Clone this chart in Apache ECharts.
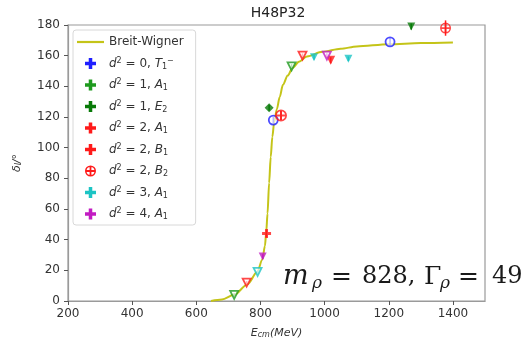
<!DOCTYPE html>
<html><head><meta charset="utf-8">
<script src="https://cdn.jsdelivr.net/npm/echarts@6/dist/echarts.min.js"></script>
<style>html,body{margin:0;padding:0;background:#fff}#c{width:528px;height:345px}</style>
</head><body><div id="c"></div>
<script>
// ---- data ----
const xTicks = [200, 400, 600, 800, 1000, 1200, 1400];
const yTicks = [0, 20, 40, 60, 80, 100, 120, 140, 160, 180];
const bwCurve = [[646,0],[680,1],[718,4],[760,11],[790,19],[806,27],[814,36],[818,45],[822,57],[827,77],[832,94],[837,107],[843,117],[851,125],[860,133],[870,141],[885,147],[900,152],[920,156],[945,159.5],[993,162.5],[1050,164.5],[1100,166],[1200,167.5],[1300,168.2],[1400,168.6]];
// [E, delta, error]
const t1mPts  = [[840,118,2],[1204,169,2.5]];
const a1d1Pts = [[718,4,1],[897,153,1.5]];
const e2d1Pts = [[827,126,2],[1270,179,2]];
const a1d2Pts = [[757,12,1],[931,160,1.5]];
const b1d2Pts = [[819,44,2.5],[1019,157,2]];
const b2d2Pts = [[864,121,3],[1377,178,5]];
const a1d3Pts = [[791,19,1],[967,159,1.5],[1074,158,1.5]];
const a1d4Pts = [[807,29,1.5],[1007,160,1.5]];

const PLUS = 'path://M3.4,0H6.6V3.4H10V6.6H6.6V10H3.4V6.6H0V3.4H3.4Z';
const OPLUS = 'path://M0,5A5,5 0 1,1 10,5A5,5 0 1,1 0,5ZM1.4,5A3.6,3.6 0 1,0 8.6,5A3.6,3.6 0 1,0 1.4,5ZM4.2,0.3H5.8V9.7H4.2ZM0.3,4.2H9.7V5.8H0.3Z';
const LINEICON = 'path://M0,0H27V2.2H0Z';
const DTRI = 'triangle';

const groups = [
  {name:'t1m', label:'{i|d}{sup|2} = 0, {i|T}{sub|1}{sup|−}', color:'#1f1fff', pts:t1mPts, sym:['circle','circle'], hollow:[true,true], size:[9,9], icon:PLUS},
  {name:'a1d1', label:'{i|d}{sup|2} = 1, {i|A}{sub|1}', color:'#1e9a1e', pts:a1d1Pts, sym:[DTRI,DTRI], hollow:[true,true], size:[8,8], icon:PLUS},
  {name:'e2d1', label:'{i|d}{sup|2} = 1, {i|E}{sub|2}', color:'#087a08', pts:e2d1Pts, sym:['diamond',DTRI], hollow:[false,false], size:[9,8], icon:PLUS},
  {name:'a1d2', label:'{i|d}{sup|2} = 2, {i|A}{sub|1}', color:'#ff1a1a', pts:a1d2Pts, sym:[DTRI,DTRI], hollow:[true,true], size:[8,8], icon:PLUS},
  {name:'b1d2', label:'{i|d}{sup|2} = 2, {i|B}{sub|1}', color:'#ff1a1a', pts:b1d2Pts, sym:[PLUS,'triangle'], hollow:[false,false], size:[9,9], icon:PLUS},
  {name:'b2d2', label:'{i|d}{sup|2} = 2, {i|B}{sub|2}', color:'#ff1a1a', pts:b2d2Pts, sym:[OPLUS,OPLUS], hollow:[false,false], size:[12,11], icon:OPLUS},
  {name:'a1d3', label:'{i|d}{sup|2} = 3, {i|A}{sub|1}', color:'#1cc4c4', pts:a1d3Pts, sym:[DTRI,DTRI,DTRI], hollow:[true,false,false], size:[8,8,8], icon:PLUS},
  {name:'a1d4', label:'{i|d}{sup|2} = 4, {i|A}{sub|1}', color:'#c21cc2', pts:a1d4Pts, sym:[DTRI,DTRI], hollow:[false,true], size:[8,8], icon:PLUS}
];

const labelMap = {'Breit-Wigner':'Breit-Wigner'};
groups.forEach(g => labelMap[g.name] = g.label);

const BWCOLOR = '#c4c418';
const series = [{
  name:'Breit-Wigner', type:'line', data:bwCurve, symbol:'none', smooth:0.3, smoothMonotone:'x',
  lineStyle:{color:BWCOLOR, width:2}, itemStyle:{color:BWCOLOR}, z:2
}];
groups.forEach(g => {
  series.push({
    name:g.name, type:'custom', z:3, silent:true,
    data:g.pts.map(p => [p[0], p[1], p[2]]),
    renderItem:(params, api) => {
      const a = api.coord([api.value(0), api.value(1) - api.value(2)]);
      const b = api.coord([api.value(0), api.value(1) + api.value(2)]);
      return {type:'line', shape:{x1:a[0], y1:a[1], x2:b[0], y2:b[1]}, style:{stroke:g.color, lineWidth:1.5}};
    }
  });
  series.push({
    name:g.name, type:'scatter', z:4,
    itemStyle:{color:g.color},
    data:g.pts.map((p,i) => ({
      value:[p[0], p[1]],
      symbol:g.sym[i],
      symbolSize:g.size[i],
      symbolRotate:(g.sym[i] === DTRI ? 180 : 0),
      itemStyle: g.hollow[i] ? {color:'rgba(255,255,255,0.85)', borderColor:g.color, borderWidth:1.8} : {color:g.color}
    }))
  });
});

const legendData = [{name:'Breit-Wigner', icon:LINEICON, itemStyle:{color:BWCOLOR}}]
  .concat(groups.map(g => ({name:g.name, icon:g.icon, itemStyle:{color:g.color}})));

const SERIF = '"DejaVu Serif"';
const annot = (x, y, text, font) => ({type:'text', x:x, y:y, z:10, style:{text:text, font:font, fill:'#1a1a1a', align:'left', verticalAlign:'middle'}});

const chart = echarts.init(document.getElementById('c'), null, {renderer:'canvas'});
chart.setOption({
  animation:false,
  backgroundColor:'#fff',
  title:{text:'H48P32', left:273, top:1, textAlign:'center', textStyle:{fontFamily:'DejaVu Sans', fontSize:14, fontWeight:'normal', color:'#222'}},
  grid:{left:68, right:43, top:25, bottom:44, show:true, borderColor:'#9a9a9a', borderWidth:1.2, backgroundColor:'transparent'},
  legend:{
    orient:'vertical', left:73, top:30, data:legendData,
    itemWidth:27, itemHeight:11, itemGap:7.5,
    padding:[5,12,4,4],
    backgroundColor:'rgba(255,255,255,0.85)', borderColor:'#d8d8d8', borderWidth:1, borderRadius:3,
    formatter: n => labelMap[n],
    textStyle:{fontFamily:'DejaVu Sans', fontSize:12, color:'#333', lineHeight:14,
      rich:{
        i:{fontStyle:'italic', fontFamily:'DejaVu Sans', fontSize:12, color:'#333', lineHeight:14},
        sup:{fontSize:8, fontFamily:'DejaVu Sans', color:'#333', lineHeight:8, verticalAlign:'top'},
        sub:{fontSize:8, fontFamily:'DejaVu Sans', color:'#333', lineHeight:8, verticalAlign:'bottom'}
      }}
  },
  xAxis:{
    type:'value', min:xTicks[0], max:1500, interval:200,
    name:'{i|E}{sub|cm}{i|(MeV)}', nameLocation:'middle', nameGap:27,
    nameTextStyle:{fontFamily:'DejaVu Sans', fontSize:11, color:'#333',
      rich:{i:{fontStyle:'italic', fontSize:11, color:'#333', fontFamily:'DejaVu Sans'},
            sub:{fontStyle:'italic', fontSize:8, color:'#333', fontFamily:'DejaVu Sans', verticalAlign:'bottom', lineHeight:8}}},
    axisLine:{show:true, onZero:false, lineStyle:{color:'#9a9a9a', width:1.2}},
    axisTick:{show:true, inside:false, length:4, lineStyle:{color:'#555'}},
    axisLabel:{fontFamily:'DejaVu Sans', fontSize:12, color:'#333', margin:7, showMaxLabel:false,
      formatter: v => xTicks.indexOf(v) >= 0 ? String(v) : ''},
    splitLine:{show:false}
  },
  yAxis:{
    type:'value', min:yTicks[0], max:yTicks[yTicks.length-1], interval:20,
    name:'{i|δ}{sub|l}{i|/°}', nameLocation:'middle', nameGap:45, nameRotate:90,
    nameTextStyle:{fontFamily:'DejaVu Sans', fontSize:11, color:'#333',
      rich:{i:{fontStyle:'italic', fontSize:11, color:'#333', fontFamily:'DejaVu Sans'},
            sub:{fontStyle:'italic', fontSize:8, color:'#333', fontFamily:'DejaVu Sans', verticalAlign:'bottom', lineHeight:8}}},
    axisLine:{show:true, onZero:false, lineStyle:{color:'#9a9a9a', width:1.2}},
    axisTick:{show:true, inside:false, length:4, lineStyle:{color:'#555'}},
    axisLabel:{fontFamily:'DejaVu Sans', fontSize:12, color:'#333', margin:8},
    splitLine:{show:false}
  },
  graphic:[
    annot(283, 277, 'm', 'italic 27px ' + SERIF),
    annot(312, 284, 'ρ', 'italic 17px ' + SERIF),
    annot(331, 277, '=', '25px ' + SERIF),
    annot(362, 277, '828,', '24px ' + SERIF),
    annot(424, 277, 'Γ', '25px ' + SERIF),
    annot(440, 284, 'ρ', 'italic 17px ' + SERIF),
    annot(458, 277, '=', '25px ' + SERIF),
    annot(492, 277, '49', '24px ' + SERIF)
  ],
  series:series
});
</script></body></html>
